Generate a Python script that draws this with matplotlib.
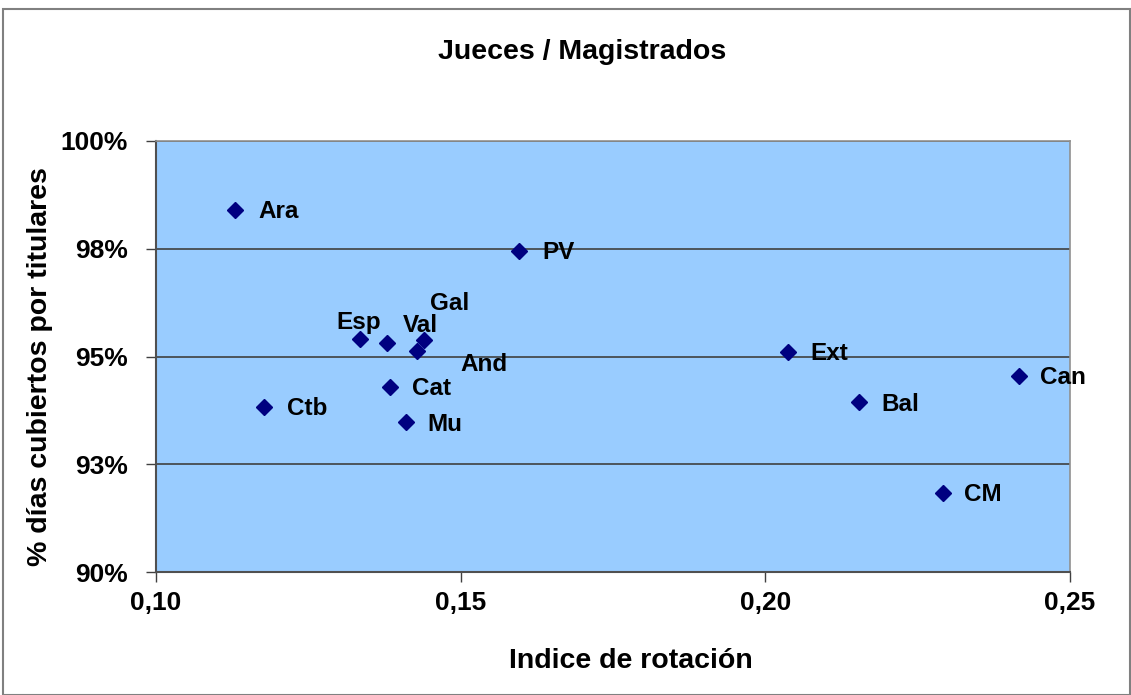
import matplotlib
matplotlib.use("Agg")
import matplotlib.pyplot as plt
from matplotlib.patches import Rectangle

plt.rcParams["font.family"] = ["Liberation Sans", "DejaVu Sans"]
plt.rcParams["font.weight"] = "bold"

regiones = ["Ara", "PV", "Esp", "Val", "Gal", "And", "Cat", "Ctb", "Mu", "Ext", "Can", "Bal", "CM"]
rotacion = [0.1130, 0.1596, 0.1335, 0.1379, 0.1440, 0.1428, 0.1384, 0.1177, 0.1410, 0.2037, 0.2416, 0.2154, 0.2292]
cubiertos = [0.9840, 0.9745, 0.9541, 0.9531, 0.9538, 0.9513, 0.9429, 0.9383, 0.9348, 0.9510, 0.9455, 0.9394, 0.9183]

x_ticks = [0.10, 0.15, 0.20, 0.25]
x_labels = ["0,10", "0,15", "0,20", "0,25"]
y_ticks = [0.90, 0.925, 0.95, 0.975, 1.00]
y_labels = ["90%", "93%", "95%", "98%", "100%"]

# desplazamiento de cada etiqueta (pixeles, borde izquierdo del texto)
offsets = {
    "Ara": (23, -2), "PV": (23, -2), "Esp": (-23, 16), "Val": (16, 18),
    "Gal": (6, 37), "And": (44, -14), "Cat": (22, -1), "Ctb": (23, -2),
    "Mu": (22, -2), "Ext": (22, -1), "Can": (21, -2), "Bal": (22, -2), "CM": (21, -1),
}

fig = plt.figure(figsize=(11.31, 6.95), dpi=100)
fig.patches.append(Rectangle((0.003, 0.0), 0.996, 0.987, transform=fig.transFigure,
                             fill=False, edgecolor="#808080", linewidth=1.5))

ax = fig.add_axes([156 / 1131, 1 - 572 / 695, (1070 - 156) / 1131, (572 - 141) / 695])
ax.set_facecolor("#99CCFF")
ax.set_xlim(0.10, 0.25)
ax.set_ylim(0.90, 1.00)
ax.set_xticks(x_ticks)
ax.set_xticklabels(x_labels)
ax.set_yticks(y_ticks)
ax.set_yticklabels(y_labels)
ax.tick_params(direction="out", length=7, width=1, colors="#404040", labelcolor="black",
               labelsize=19)
ax.tick_params(axis="y", pad=13)
ax.tick_params(axis="x", pad=7)
ax.grid(axis="y", color="#404040", linewidth=1.2)
ax.set_axisbelow(True)
for side in ["left", "bottom"]:
    ax.spines[side].set_color("#505050")
    ax.spines[side].set_linewidth(1.5)
for side in ["top", "right"]:
    ax.spines[side].set_color("#909090")
    ax.spines[side].set_linewidth(1.2)

ax.plot(rotacion, cubiertos, linestyle="none", marker="D", markersize=8, color="#000080", zorder=3)

for name, x, y in zip(regiones, rotacion, cubiertos):
    dx, dy = offsets[name]
    if dx < 0:
        # etiqueta alineada a la derecha (Esp)
        ax.annotate(name, (x, y), xytext=(dx + 44, dy), textcoords="offset pixels",
                    ha="right", va="center", fontsize=17.5, fontweight="bold",
                    annotation_clip=False, zorder=4)
    else:
        ax.annotate(name, (x, y), xytext=(dx, dy), textcoords="offset pixels",
                    ha="left", va="center", fontsize=17.5, fontweight="bold",
                    annotation_clip=False, zorder=4)

fig.text(582 / 1131, 1 - 52 / 695, "Jueces / Magistrados", ha="center", va="center",
         fontsize=20.5, fontweight="bold")
fig.text(631 / 1131, 1 - 661 / 695, "Indice de rotación", ha="center", va="center",
         fontsize=20.5, fontweight="bold")
fig.text(40 / 1131, 1 - 367 / 695, "% días cubiertos por titulares", ha="center", va="center",
         rotation=90, fontsize=20.5, fontweight="bold")

fig.savefig("out.png", dpi=100)
